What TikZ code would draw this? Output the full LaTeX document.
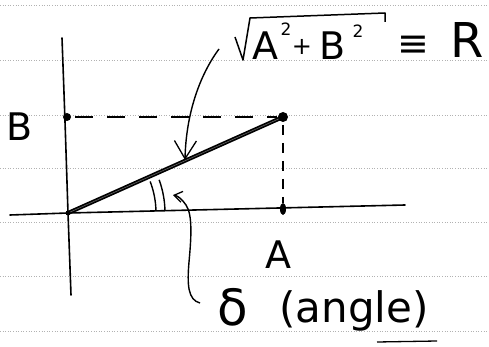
\documentclass[tikz,border=0pt]{standalone}
\usepackage{fontspec}
\setmainfont{DejaVu Sans}
\usetikzlibrary{arrows.meta}
\tikzset{
  rule/.style={gray!60, line width=0.6pt, dotted},
  axis/.style={black, line width=1.6pt, line cap=round},
  dashline/.style={black, line width=1.6pt, dash pattern=on 18pt off 14pt},
  vdash/.style={black, line width=1.4pt, dash pattern=on 10pt off 8pt},
  vec/.style={black, line width=4pt, line cap=round},
  vecin/.style={gray!80!black, line width=0.6pt},
  anglearc/.style={black, line width=1.4pt},
  ptr/.style={black, line width=1.4pt, -{Straight Barb[length=18pt,width=22pt,line width=1.3pt]}},
  ptrsmall/.style={black, line width=1.4pt, -{Straight Barb[length=8pt,width=11pt,line width=1.3pt]}},
  lbl/.style={inner sep=0pt, font=\fontsize{38}{40}\selectfont},
  plus/.style={inner sep=0pt, font=\fontsize{24}{26}\selectfont},
  sup/.style={inner sep=0pt, font=\fontsize{17}{18}\selectfont},
  big/.style={inner sep=0pt, font=\fontsize{48}{50}\selectfont},
  note/.style={inner sep=0pt, font=\fontsize{42}{44}\selectfont},
  dnote/.style={inner sep=0pt, font=\fontsize{50}{52}\selectfont}
}
\begin{document}
\begin{tikzpicture}[x=1pt,y=-1pt]
\useasboundingbox (0,0) rectangle (489,347);
\fill[white] (0,0) rectangle (489,347);
% ruled paper
\foreach \yy in {5,60,115,168,222,276,331}
  \draw[rule] (0,\yy) -- (489,\yy);
% points
\coordinate (O) at (68,213);
\coordinate (Vtop) at (62,38);
\coordinate (Vbot) at (71,295);
\coordinate (Hl) at (10,215);
\coordinate (Hr) at (405,205);
\coordinate (Bp) at (67,117);
\coordinate (P) at (283,117);
\coordinate (Ap) at (283,209);
\coordinate (Bd) at (75,117);
\coordinate (Pd) at (277,117);
\coordinate (Pv) at (283,125);
\coordinate (Av) at (283,203);
% axes
\draw[axis] (Vtop) .. controls (65,120) .. (O) -- (Vbot);
\draw[axis] (Hl) -- (O) -- (Hr);
% dashed projections
\draw[dashline] (Bd) -- (Pd);
\draw[vdash] (Pv) -- (Av);
% vector
\draw[vec] (O) -- (P);
\draw[vecin] (O) -- (P);
% dots
\fill (Bp) circle (4);
\fill (P) circle (5);
\fill (Ap) ellipse (3 and 6);
\fill (O) circle (2.5);
% angle arcs
\draw[anglearc] (O) ++(-1.5:88) arc[start angle=-1.5, end angle=-21, radius=88];
\draw[anglearc] (O) ++(-1.5:97) arc[start angle=-1.5, end angle=-20, radius=97];
% labels
\node[lbl] (Blbl) at (20,127) {B};
\node[lbl, anchor=base] (Albl) at (278,268) {A};
% sqrt expression
\node[lbl, anchor=base] (sA) at (265,60) {A};
\node[sup, anchor=base] (s2a) at (286,36) {2};
\node[plus] (splus) at (302,47) {+};
\node[lbl, anchor=base] (sB) at (333,60) {B};
\node[sup, anchor=base] (s2b) at (358,38) {2};
\node[lbl] (seq) at (413,46) {≡};
\node[big, anchor=base] (sR) at (467,58) {R};
\draw[black, line width=1.5pt, line join=round] (235,37) -- (243,60) -- (250,18) -- (385,13) -- (385,22);
% pointer to vector
\coordinate (s1) at (219,49);
\coordinate (s2) at (185,160);
\draw[ptr] (s1) .. controls (199,76) and (186,115) .. (s2);
% delta label
\node[dnote, anchor=base] (dlt) at (233,325) {δ};
\node[note, anchor=base] (ang) at (354,322) {(angle)};
\draw[black, line width=1.3pt] (377,342) -- (437,341);
% pointer to angle
\coordinate (d1) at (200,303);
\coordinate (d2) at (173,195);
\draw[ptrsmall] (d1) .. controls (188,300) and (187,285) .. (189,262)
  .. controls (191,240) and (193,215) .. (186,205)
  .. controls (182,199) and (178,196) .. (d2);
\end{tikzpicture}
\end{document}
